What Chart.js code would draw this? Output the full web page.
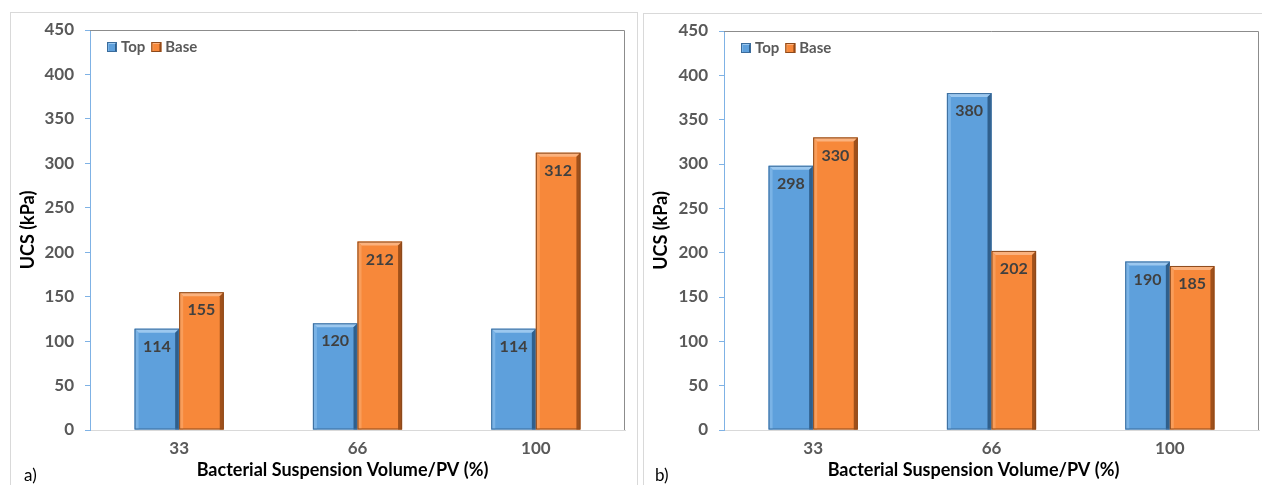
<!DOCTYPE html>
<html>
<head>
<meta charset="utf-8">
<script src="https://cdn.jsdelivr.net/npm/chart.js@4"></script>
<style>
  html, body { margin: 0; padding: 0; background: #fff; overflow: hidden; width: 1262px; height: 485px; }
  .panel { position: absolute; border: 1px solid #d9d9d9; background: #fff; }
  .box { position: relative; }
  .tag { position: absolute; font: 17px Lato, sans-serif; color: #000; }
</style>
</head>
<body>
<div class="panel" style="left:10px; top:12px; width:626px; height:490px;">
  <div class="box" style="width:626px; height:472px;"><canvas id="chartA"></canvas></div>
  <div class="tag" style="left:13px; top:451px;">a)</div>
</div>
<div class="panel" style="left:643px; top:13px; width:630px; height:490px;">
  <div class="box" style="width:620px; height:471px;"><canvas id="chartB"></canvas></div>
  <div class="tag" style="left:11px; top:450px;">b)</div>
</div>
<script>
const categories = ['33', '66', '100'];
const topA = [114, 120, 114];
const baseA = [155, 212, 312];
const topB = [298, 380, 190];
const baseB = [330, 202, 185];
const seriesNames = ['Top', 'Base'];
const yMin = 0, yMax = 450, yStep = 50;
const xTitle = 'Bacterial Suspension Volume/PV (%)';
const yTitle = 'UCS (kPa)';

const FONT = 'Lato, sans-serif';
const BLUE = '#5ea0dc';
const ORANGE = '#f7883a';

// light/dark shades for the bevelled look
const shades = {
  [BLUE]:   { top: '#9cc8ef', left: '#7ab3e6', right: '#2f5f8c', line: '#3b6c9c' },
  [ORANGE]: { top: '#fbb27e', left: '#f99d5a', right: '#a0501a', line: '#8c4a1c' }
};

function bevelRect(c, s, l, r, y, base, b) {
  c.fillStyle = s.top;
  c.beginPath();
  c.moveTo(l, y); c.lineTo(r, y); c.lineTo(r - b, y + b); c.lineTo(l + b, y + b);
  c.closePath(); c.fill();
  c.fillStyle = s.left;
  c.beginPath();
  c.moveTo(l, y); c.lineTo(l + b, y + b); c.lineTo(l + b, base); c.lineTo(l, base);
  c.closePath(); c.fill();
  c.fillStyle = s.right;
  c.beginPath();
  c.moveTo(r, y); c.lineTo(r, base); c.lineTo(r - b, base); c.lineTo(r - b, y + b);
  c.closePath(); c.fill();
  c.strokeStyle = s.line;
  c.lineWidth = 1;
  c.strokeRect(l + 0.5, y + 0.5, r - l - 1, base - y - 1);
}

const bevelBars = {
  id: 'bevelBars',
  afterDatasetsDraw(chart) {
    const c = chart.ctx;
    chart.data.datasets.forEach((ds, i) => {
      const s = shades[ds.backgroundColor];
      chart.getDatasetMeta(i).data.forEach((bar, j) => {
        const { x, y, base, width } = bar.getProps(['x', 'y', 'base', 'width'], true);
        c.save();
        bevelRect(c, s, x - width / 2, x + width / 2, y, base, 4);
        c.fillStyle = '#404040';
        c.font = 'bold 16px ' + FONT;
        c.textAlign = 'center';
        c.textBaseline = 'middle';
        c.fillText(String(ds.data[j]), x, y + 18);
        c.restore();
      });
    });
  }
};

// legend inside the plot area (top-left) and the x axis title, which sits a bit left of centre
const extras = {
  id: 'extras',
  afterDraw(chart) {
    const c = chart.ctx;
    const { left, top, right, bottom } = chart.chartArea;
    c.save();
    // frame on top and right of plot area
    c.strokeStyle = '#8c8c8c';
    c.lineWidth = 1;
    c.beginPath();
    c.moveTo(left, top + 0.5);
    c.lineTo(right - 0.5, top + 0.5);
    c.lineTo(right - 0.5, bottom);
    c.stroke();

    let x = left + 17;
    const cy = top + 17;
    c.font = 'bold 15px ' + FONT;
    c.textBaseline = 'middle';
    chart.data.datasets.forEach(ds => {
      const s = shades[ds.backgroundColor];
      c.fillStyle = ds.backgroundColor;
      c.fillRect(x, cy - 5, 10, 10);
      bevelRect(c, s, x, x + 10, cy - 5, cy + 5, 2);
      x += 14;
      c.fillStyle = '#595959';
      c.fillText(ds.label, x, cy);
      x += c.measureText(ds.label).width + 6;
    });

    c.font = 'bold 18px ' + FONT;
    c.fillStyle = '#000';
    c.textAlign = 'center';
    c.fillText(xTitle, (left + right) / 2 - chart.options.xTitleShift, bottom + 40);
    c.restore();
  }
};

function makeChart(id, topVals, baseVals, pad) {
  return new Chart(document.getElementById(id), {
    type: 'bar',
    data: {
      labels: categories,
      datasets: [
        { label: seriesNames[0], data: topVals, backgroundColor: BLUE, borderWidth: 0 },
        { label: seriesNames[1], data: baseVals, backgroundColor: ORANGE, borderWidth: 0 }
      ]
    },
    options: {
      responsive: true,
      maintainAspectRatio: false,
      animation: false,
      xTitleShift: pad.shift,
      layout: { padding: { top: pad.top, right: pad.right, left: 0, bottom: 0 } },
      datasets: { bar: { categoryPercentage: 0.5, barPercentage: 1 } },
      scales: {
        x: {
          grid: { display: false, drawTicks: false },
          border: { color: '#d9d9d9' },
          ticks: { color: '#595959', font: { family: FONT, size: 17, weight: 'bold' }, padding: 8 },
          afterFit(scale) { scale.height = 55; }
        },
        y: {
          min: yMin,
          max: yMax,
          ticks: { stepSize: yStep, color: '#595959', font: { family: FONT, size: 17, weight: 'bold' }, padding: 11 },
          grid: { drawOnChartArea: false, color: '#7fb2e5', tickLength: 5 },
          border: { color: '#7fb2e5' },
          title: {
            display: true,
            text: yTitle,
            color: '#000',
            font: { family: FONT, size: 18, weight: 'bold' },
            padding: { top: 6, bottom: 0 }
          },
          afterFit(scale) {
            scale.width = pad.yw;
            scale.paddingTop = 0;
            scale.paddingBottom = 0;
          }
        }
      },
      plugins: {
        legend: { display: false },
        tooltip: { enabled: false }
      }
    },
    plugins: [bevelBars, extras]
  });
}

makeChart('chartA', topA, baseA, { top: 17, right: 12, yw: 79, shift: 15 });
makeChart('chartB', topB, baseB, { top: 17, right: 5, yw: 80, shift: 18 });
</script>
</body>
</html>
